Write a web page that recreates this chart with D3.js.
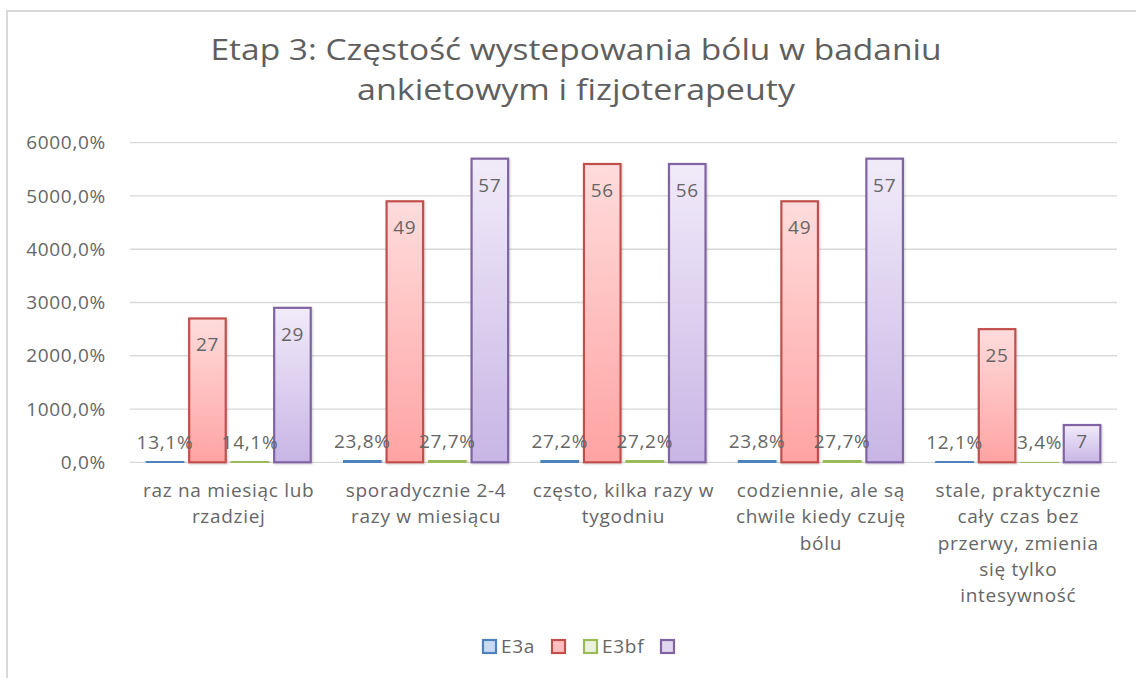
<!DOCTYPE html>
<html>
<head>
<meta charset="utf-8">
<script src="https://cdn.jsdelivr.net/npm/d3@7"></script>
<style>
  body { margin: 0; background: #fff; }
</style>
</head>
<body>
<div id="chart"></div>
<script>
const categories = [
  ['raz na miesiąc lub', 'rzadziej'],
  ['sporadycznie 2-4', 'razy w miesiącu'],
  ['często, kilka razy w', 'tygodniu'],
  ['codziennie, ale są', 'chwile kiedy czuję', 'bólu'],
  ['stale, praktycznie', 'cały czas bez', 'przerwy, zmienia', 'się tylko', 'intesywność']
];
const seriesNames = ['E3a', '', 'E3bf', ''];
const e3a = [0.131, 0.238, 0.272, 0.238, 0.121];
const e3aCount = [27, 49, 56, 49, 25];
const e3bf = [0.141, 0.277, 0.272, 0.277, 0.034];
const e3bfCount = [29, 57, 56, 57, 7];
const yTicks = [0, 10, 20, 30, 40, 50, 60];
const titleLines = ['Etap 3: Częstość wystepowania bólu w badaniu', 'ankietowym i fizjoterapeuty'];

const width = 1136;
const height = 678;
const font = '"Open Sans", "Noto Sans", sans-serif';
const textColor = '#666666';
const titleColor = '#5f5f5f';
const gridColor = '#d9d9d9';
const labelSize = '19px';
const spacing = '0.7px';

const strokes = ['#4f81bd', '#c0504d', '#9bbb59', '#8064a2'];
const topFills = ['#dce6f4', '#ffdcdc', '#eef4e2', '#f1ebf9'];
const bottomFills = ['#a9c3e6', '#ffa3a3', '#cfe0ad', '#c8b5e5'];
const legendFills = ['#c9daf2', '#ffbfbf', '#eaf1dd', '#e1d8f0'];

const values = [e3a, e3aCount, e3bf, e3bfCount];
const rows = categories.map((c, i) => ({ lines: c, vals: values.map(v => v[i]) }));

const locale = d3.formatLocale({ decimal: ',', thousands: '', grouping: [3], currency: ['', ''] });
const pct = locale.format('.1%');
const intFmt = locale.format('d');

const svg = d3.select('#chart').append('svg').attr('width', width).attr('height', height);

const defs = svg.append('defs');
strokes.forEach((s, i) => {
  const g = defs.append('linearGradient').attr('id', 'grad' + i)
    .attr('x1', 0).attr('y1', 0).attr('x2', 0).attr('y2', 1);
  g.append('stop').attr('offset', '0%').attr('stop-color', topFills[i]);
  g.append('stop').attr('offset', '100%').attr('stop-color', bottomFills[i]);
});
const shadow = defs.append('filter').attr('id', 'shadow')
  .attr('x', '-20%').attr('y', '-20%').attr('width', '140%').attr('height', '140%');
shadow.append('feDropShadow').attr('dx', 1).attr('dy', 1).attr('stdDeviation', 1.2)
  .attr('flood-color', '#000').attr('flood-opacity', 0.18);

// chart frame
svg.append('rect')
  .attr('x', 7).attr('y', 11).attr('width', width + 20).attr('height', height + 20)
  .attr('fill', 'none').attr('stroke', gridColor).attr('stroke-width', 2);

// title
svg.selectAll('.title').data(titleLines).join('text')
  .attr('class', 'title')
  .attr('x', 576)
  .attr('y', (d, i) => 60 + i * 40)
  .attr('text-anchor', 'middle')
  .attr('font-family', font)
  .attr('font-size', '29px')
  .attr('fill', titleColor)
  .attr('textLength', (d, i) => i === 0 ? 731 : 438)
  .attr('lengthAdjust', 'spacingAndGlyphs')
  .text(d => d);

const x0 = d3.scaleBand()
  .domain(d3.range(categories.length))
  .range([130, 1117]);

const groupWidth = 170;
const x1 = d3.scaleBand()
  .domain(d3.range(seriesNames.length))
  .range([(x0.bandwidth() - groupWidth) / 2, (x0.bandwidth() + groupWidth) / 2])
  .paddingInner(0.14)
  .paddingOuter(0.07);

const y = d3.scaleLinear()
  .domain([0, 60])
  .range([462.3, 142.7]);

// gridlines
svg.append('g')
  .selectAll('line').data(yTicks).join('line')
  .attr('x1', 130).attr('x2', 1117)
  .attr('y1', d => y(d)).attr('y2', d => y(d))
  .attr('stroke', gridColor).attr('stroke-width', 1.3);

// y axis labels
const yAxis = svg.append('g')
  .attr('transform', 'translate(110,0)')
  .call(d3.axisLeft(y).tickValues(yTicks).tickFormat(pct).tickSize(0).tickPadding(4));
yAxis.select('.domain').remove();
yAxis.selectAll('text')
  .attr('font-family', font)
  .attr('font-size', labelSize)
  .attr('letter-spacing', spacing)
  .attr('fill', textColor);

// bars
const groups = svg.append('g').selectAll('g').data(rows).join('g')
  .attr('transform', (d, i) => `translate(${x0(i)},0)`);

groups.selectAll('rect').data(d => d.vals).join('rect')
  .attr('x', (d, j) => x1(j))
  .attr('y', d => y(d))
  .attr('width', x1.bandwidth())
  .attr('height', d => y(0) - y(d))
  .attr('fill', (d, j) => `url(#grad${j})`)
  .attr('stroke', (d, j) => strokes[j])
  .attr('stroke-width', 2.2)
  .attr('filter', 'url(#shadow)');

// data labels: small series above the bar, counts inside the top
groups.selectAll('text.val').data(d => d.vals).join('text')
  .attr('class', 'val')
  .attr('x', (d, j) => x1(j) + x1.bandwidth() / 2)
  .attr('y', (d, j) => j % 2 === 0 ? y(d) - 13 : Math.min(y(d) + 33, 448))
  .attr('text-anchor', 'middle')
  .attr('font-family', font)
  .attr('font-size', labelSize)
  .attr('letter-spacing', spacing)
  .attr('fill', textColor)
  .text((d, j) => j % 2 === 0 ? pct(d) : intFmt(d));

// category labels
groups.append('text')
  .attr('text-anchor', 'middle')
  .attr('font-family', font)
  .attr('font-size', labelSize)
  .attr('letter-spacing', spacing)
  .attr('fill', textColor)
  .selectAll('tspan').data(d => d.lines).join('tspan')
  .attr('x', x0.bandwidth() / 2)
  .attr('y', (d, k) => 497 + k * 26.3)
  .text(d => d);

// legend
const legendX = [482, 551, 583, 660];
const legend = svg.append('g').selectAll('g').data(seriesNames).join('g')
  .attr('transform', (d, i) => `translate(${legendX[i]},639)`);
legend.append('rect')
  .attr('x', 1).attr('y', 1).attr('width', 13).attr('height', 13)
  .attr('fill', (d, i) => legendFills[i])
  .attr('stroke', (d, i) => strokes[i])
  .attr('stroke-width', 2.2);
legend.append('text')
  .attr('x', 19).attr('y', 14)
  .attr('font-family', font)
  .attr('font-size', labelSize)
  .attr('letter-spacing', spacing)
  .attr('fill', textColor)
  .text(d => d);
</script>
</body>
</html>
